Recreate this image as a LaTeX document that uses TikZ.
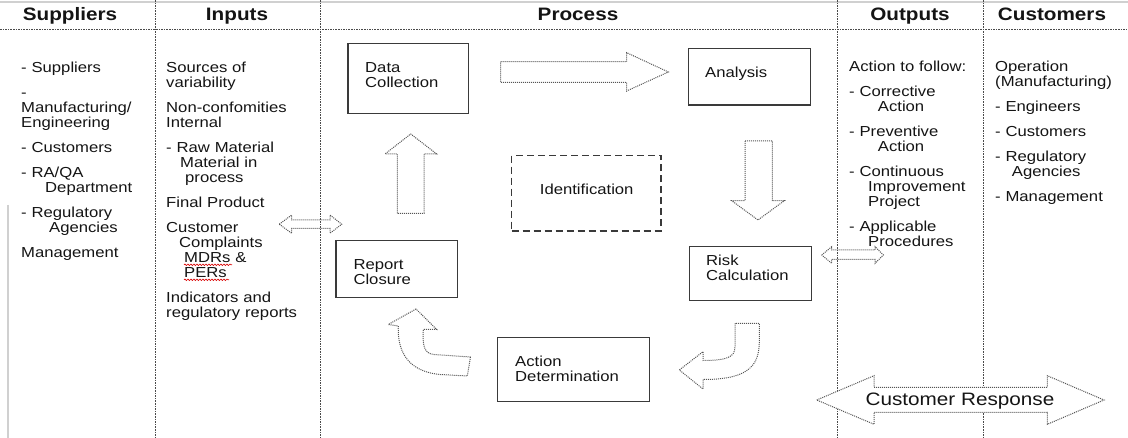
\documentclass[tikz,border=0pt]{standalone}
\usepackage{fontspec}
\setmainfont{Liberation Sans}[FakeStretch=1.15]
\usetikzlibrary{decorations.pathmorphing}
\definecolor{rulegray}{HTML}{4A4A4A}
\definecolor{boxgray}{HTML}{3A3A3A}
\definecolor{arrowgray}{HTML}{555555}
\definecolor{framegray}{HTML}{D0D0D0}
\definecolor{textcol}{HTML}{141414}
\begin{document}
\begin{tikzpicture}[x=1pt,y=-1pt,
  colrule/.style={draw=rulegray, line width=0.8pt, dash pattern=on 1.6pt off 1pt},
  framerule/.style={draw=framegray, line width=1.8pt},
  stepbox/.style={draw=boxgray, line width=1.1pt, inner sep=0pt},
  idbox/.style={draw=boxgray, line width=1.4pt, dash pattern=on 7pt off 4pt, inner sep=0pt},
  blockarrow/.style={draw=arrowgray, line width=1pt, dash pattern=on 1pt off 1pt},
  bodyfont/.style={font=\fontsize{14.5}{15}\selectfont, text=textcol},
  coltext/.style={bodyfont, anchor=base west, inner sep=0pt, text width=160pt, align=left},
  headtext/.style={anchor=base, inner sep=0pt, text=textcol, font=\fontsize{18}{20}\selectfont\bfseries},
  squiggle/.style={draw=red!85!black, line width=0.6pt, decorate,
    decoration={snake, amplitude=0.8pt, segment length=3pt}}
]
\useasboundingbox (0,0) rectangle (1128,438);

% outer frame lines
\draw[framerule] (0,2) -- (1128,2);
\draw[framerule] (8,205) -- (8,438);

% column grid
\draw[colrule] (0,29) -- (1128,29);
\foreach \cx in {155,320,837,983} \draw[colrule] (\cx,0) -- (\cx,438);

% column headings
\node[headtext] (hsup) at (70,21) {Suppliers};
\node[headtext] (hin)  at (237,21) {Inputs};
\node[headtext] (hpro) at (578,21) {Process};
\node[headtext] (hout) at (910,21) {Outputs};
\node[headtext] (hcus) at (1052,21) {Customers};

% column contents
\node[coltext] (suppliers) at (21,72.3) {%
  - Suppliers\\[10pt]
  -\\
  Manufacturing/\\
  Engineering\\[10pt]
  - Customers\\[10pt]
  - RA/QA\\
  \hspace*{24pt}Department\\[10pt]
  - Regulatory\\
  \hspace*{28pt}Agencies\\[10pt]
  Management};

\node[coltext] (inputs) at (166,72.7) {%
  Sources of\\
  variability\\[10pt]
  Non-confomities\\
  Internal\\[10pt]
  - Raw Material\\
  \hspace*{14pt}Material in\\
  \hspace*{19pt}process\\[10pt]
  Final Product\\[10pt]
  Customer\\
  \hspace*{13pt}Complaints\\
  \hspace*{18pt}MDRs \&\\
  \hspace*{18pt}PERs\\[10pt]
  Indicators and\\
  regulatory reports};

\node[coltext] (outputs) at (849,71.7) {%
  Action to follow:\\[10pt]
  - Corrective\\
  \hspace*{28.7pt}Action\\[10pt]
  - Preventive\\
  \hspace*{28.7pt}Action\\[10pt]
  - Continuous\\
  \hspace*{19pt}Improvement\\
  \hspace*{19pt}Project\\[10pt]
  - Applicable\\
  \hspace*{19pt}Procedures};

\node[coltext] (customers) at (995,71.7) {%
  Operation\\
  (Manufacturing)\\[10pt]
  - Engineers\\[10pt]
  - Customers\\[10pt]
  - Regulatory\\
  \hspace*{16.7pt}Agencies\\[10pt]
  - Management};

% spelling marks under the abbreviations
\draw[squiggle] (184,264.8) -- (232,264.8);
\draw[squiggle] (184,279.8) -- (229,279.8);

% process steps
\node[stepbox, minimum width=120.7pt, minimum height=70pt] (dc) at (408.3,78.3) {};
\node[coltext] (dct) at (365,72.7) {Data\\Collection};

\node[stepbox, minimum width=121.7pt, minimum height=56.7pt] (an) at (749.2,76.7) {};
\node[coltext] (ant) at (705,77.7) {Analysis};

\node[idbox, minimum width=149.3pt, minimum height=75.3pt] (id) at (586.3,193.3) {};
\node[bodyfont, anchor=base, inner sep=0pt] (idt) at (586.7,195) {Identification};

\node[stepbox, minimum width=121.7pt, minimum height=56.7pt] (rc) at (396.8,269.3) {};
\node[coltext] (rct) at (353.3,270) {Report\\Closure};

\node[stepbox, minimum width=121.7pt, minimum height=54pt] (rk) at (750.2,273.7) {};
\node[coltext] (rkt) at (706,265.7) {Risk\\Calculation};

\node[stepbox, minimum width=152pt, minimum height=64.3pt] (ad) at (573.3,369.8) {};
\node[coltext] (adt) at (515,366.7) {Action\\Determination};

% block arrows between the steps
\draw[blockarrow] (500.7,61.7) -- (626.7,61.7) -- (626.7,52.7) -- (668.3,72)
  -- (626.7,91) -- (626.7,82.3) -- (500.7,82.3) -- cycle;
\draw[blockarrow] (745,141) -- (772.3,141) -- (772.3,200.7) -- (784.3,200.7)
  -- (758,220) -- (731.7,200.7) -- (745,200.7) -- cycle;
\draw[blockarrow] (735,323.3) -- (735,347)
  .. controls (735,357) and (727,360.5) .. (703,360.5)
  -- (703,351.7) -- (679.3,370) -- (703,389) -- (703,379.5)
  .. controls (745,379.5) and (759.3,368) .. (759.3,342) -- (759.3,323.3) -- cycle;
\draw[blockarrow] (470.5,357) -- (434,354.5)
  .. controls (424,353.5) and (422.5,346) .. (423.3,329.3)
  -- (436.7,329.5) -- (416,309) -- (388.3,324.5) -- (398.3,326)
  .. controls (397,358) and (414,372) .. (440,374.5) -- (467.3,376) -- cycle;
\draw[blockarrow] (397.3,213.3) -- (397.3,154) -- (385,154) -- (410.7,134)
  -- (436.7,154) -- (424,154) -- (424,213.3) -- cycle;

% exchange arrows across the column borders
\draw[blockarrow] (279.3,224.2) -- (291.7,215) -- (291.7,220) -- (330,220) -- (330,215)
  -- (341.7,224.2) -- (330,233.3) -- (330,228.3) -- (291.7,228.3) -- (291.7,233.3) -- cycle;
\draw[blockarrow] (821.7,255) -- (831.7,246.7) -- (831.7,250) -- (875,250) -- (875,246.7)
  -- (883.3,255) -- (875,263.3) -- (875,259.3) -- (831.7,259.3) -- (831.7,263.3) -- cycle;

% customer response arrow
\draw[blockarrow, fill=white] (816.7,400) -- (874,375.7) -- (874,387.3) -- (1047.3,387.3)
  -- (1047.3,375.7) -- (1104,400) -- (1047.3,424.3) -- (1047.3,412.3) -- (874,412.3)
  -- (874,424.3) -- cycle;
\node[anchor=base, inner sep=0pt, text=textcol, font=\fontsize{18}{20}\selectfont]
  (crt) at (960,406) {Customer Response};
\end{tikzpicture}
\end{document}
